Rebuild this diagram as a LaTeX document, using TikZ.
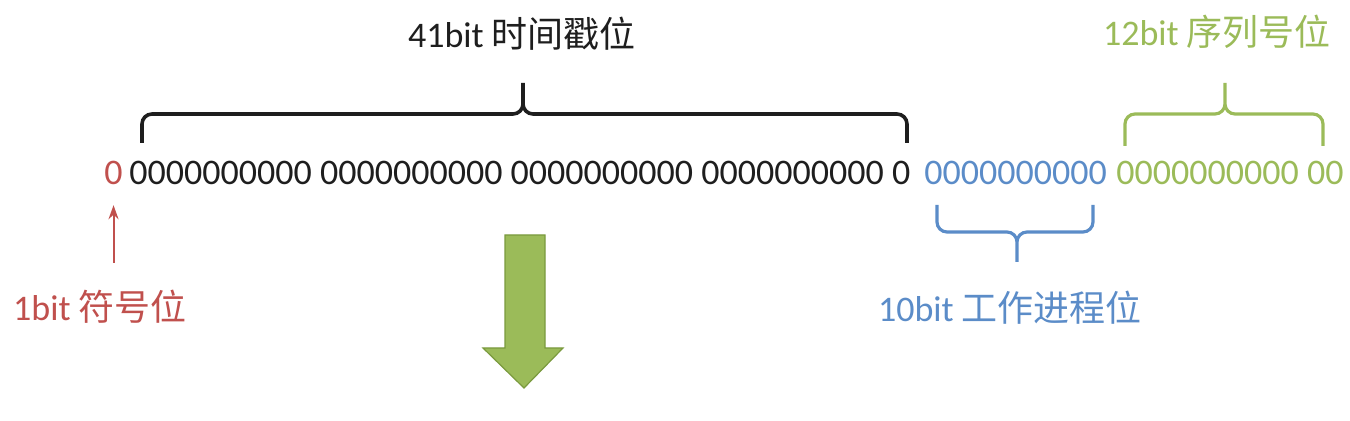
\documentclass[tikz,border=0pt]{standalone}
\usepackage{fontspec}
\setmainfont{Carlito}
\newfontfamily\cjk{Noto Sans CJK SC}
\usetikzlibrary{arrows.meta}
\definecolor{signred}{HTML}{C0504D}
\definecolor{workerblue}{HTML}{5B8CC8}
\definecolor{seqgreen}{HTML}{9BBB59}
\definecolor{stampblack}{HTML}{1E1E1E}
\definecolor{arrowedge}{HTML}{7A9A3E}
\tikzset{
  bits/.style={anchor=west, inner sep=0pt, font=\fontsize{18}{20}\selectfont},
  caption/.style={inner sep=0pt, font=\fontsize{18}{20}\selectfont},
  bar/.style={line width=1.6pt, rounded corners=5pt},
}
\begin{document}
\begin{tikzpicture}[x=0.5pt, y=-0.5pt]
  \useasboundingbox (0,0) rectangle (1350,421);
  % the 64 bits
  \node [bits, text=signred] (sign) at (104,173) {0};
  \node [bits, text=stampblack] (stamp) at (129,173) {0000000000 0000000000 0000000000 0000000000 0};
  \node [bits, text=workerblue] (worker) at (924,173) {0000000000};
  \node [bits, text=seqgreen] (seq) at (1116,173) {0000000000 00};
  % field names
  \node [caption, text=stampblack] (stampLabel) at (522,34) {41bit {\cjk 时间戳位}};
  \node [caption, text=seqgreen] (seqLabel) at (1217,32) {12bit {\cjk 序列号位}};
  \node [caption, text=signred] (signLabel) at (100,307) {1bit {\cjk 符号位}};
  \node [caption, text=workerblue] (workerLabel) at (1010,308) {10bit {\cjk 工作进程位}};
  % braces
  \draw [bar, stampblack, line width=1.8pt] (142,143) |- (523,114) -- (523,83) (907,143) |- (523,114) -- (523,83);
  \draw [bar, seqgreen] (1125,146) |- (1225,114) -- (1225,83) (1323,146) |- (1225,114) -- (1225,83);
  \draw [bar, workerblue] (937,205) |- (1017,232) -- (1017,262) (1093,205) |- (1017,232) -- (1017,262);
  % sign bit arrow
  \draw [signred, line width=1pt, -{Stealth[length=7pt, width=5pt]}]
    ([yshift=13.5pt]signLabel.north -| sign.south) -- ([yshift=-10pt]sign.south);
  % big arrow
  \filldraw [fill=seqgreen, draw=arrowedge, line width=0.6pt]
    (505,235) -- (545,235) -- (545,348) -- (563,348) -- (524,388) -- (483,348) -- (505,348) -- cycle;
\end{tikzpicture}
\end{document}
